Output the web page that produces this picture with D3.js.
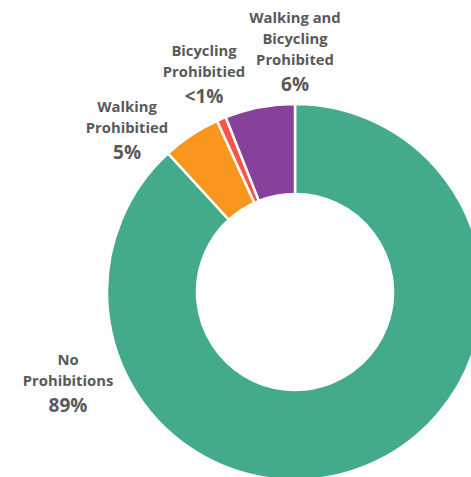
<html>
<head>
<script src="https://d3js.org/d3.v7.min.js"></script>
<style>
  body { margin: 0; background: #fff; }
  text { font-family: "Open Sans", Lato, sans-serif; font-weight: bold; fill: #58595b; }
</style>
</head>
<body>
<script>
// data, clockwise from 12 o'clock
var categories = ["No Prohibitions", "Walking Prohibited", "Bicycling Prohibited", "Walking and Bicycling Prohibited"];
var values = [88.2, 5.0, 0.8, 6.0];
var percentLabels = ["89%", "5%", "<1%", "6%"];
var labelLines = [
    ["No", "Prohibitions"],
    ["Walking", "Prohibitied"],
    ["Bicycling", "Prohibitied"],
    ["Walking and", "Bicycling", "Prohibited"]
];
var colors = ["#43aa8b", "#f8961e", "#f9544a", "#87419a"];

// label anchors (x center, y of first baseline) picked by hand
var labelPos = [[68, 365], [127, 112], [204, 56], [295, 23]];

var width = 471, height = 477;
var cx = 295, cy = 292, outerR = 188, innerR = 98;

var svg = d3.select("body").append("svg")
    .attr("width", width)
    .attr("height", height);

var pie = d3.pie().sort(null).value(d => d);
var arc = d3.arc().innerRadius(innerR).outerRadius(outerR);

var g = svg.append("g").attr("transform", "translate(" + cx + "," + cy + ")");
g.selectAll("path")
    .data(pie(values))
    .enter()
    .append("path")
    .attr("d", arc)
    .attr("fill", (d, i) => colors[i])
    .attr("stroke", "#fff")
    .attr("stroke-width", 2.5);

// labels
var labels = svg.selectAll("g.label")
    .data(categories)
    .enter()
    .append("g")
    .attr("class", "label")
    .attr("transform", (d, i) => "translate(" + labelPos[i][0] + "," + labelPos[i][1] + ")");

labels.each(function(d, i) {
    var lg = d3.select(this);
    labelLines[i].forEach(function(line, j) {
        lg.append("text")
            .attr("text-anchor", "middle")
            .attr("y", j * 21)
            .style("font-size", "14.8px")
            .text(line);
    });
    lg.append("text")
        .attr("text-anchor", "middle")
        .attr("y", labelLines[i].length * 21 + 5)
        .style("font-size", "19px")
        .text(percentLabels[i]);
});
</script>
</body>
</html>
